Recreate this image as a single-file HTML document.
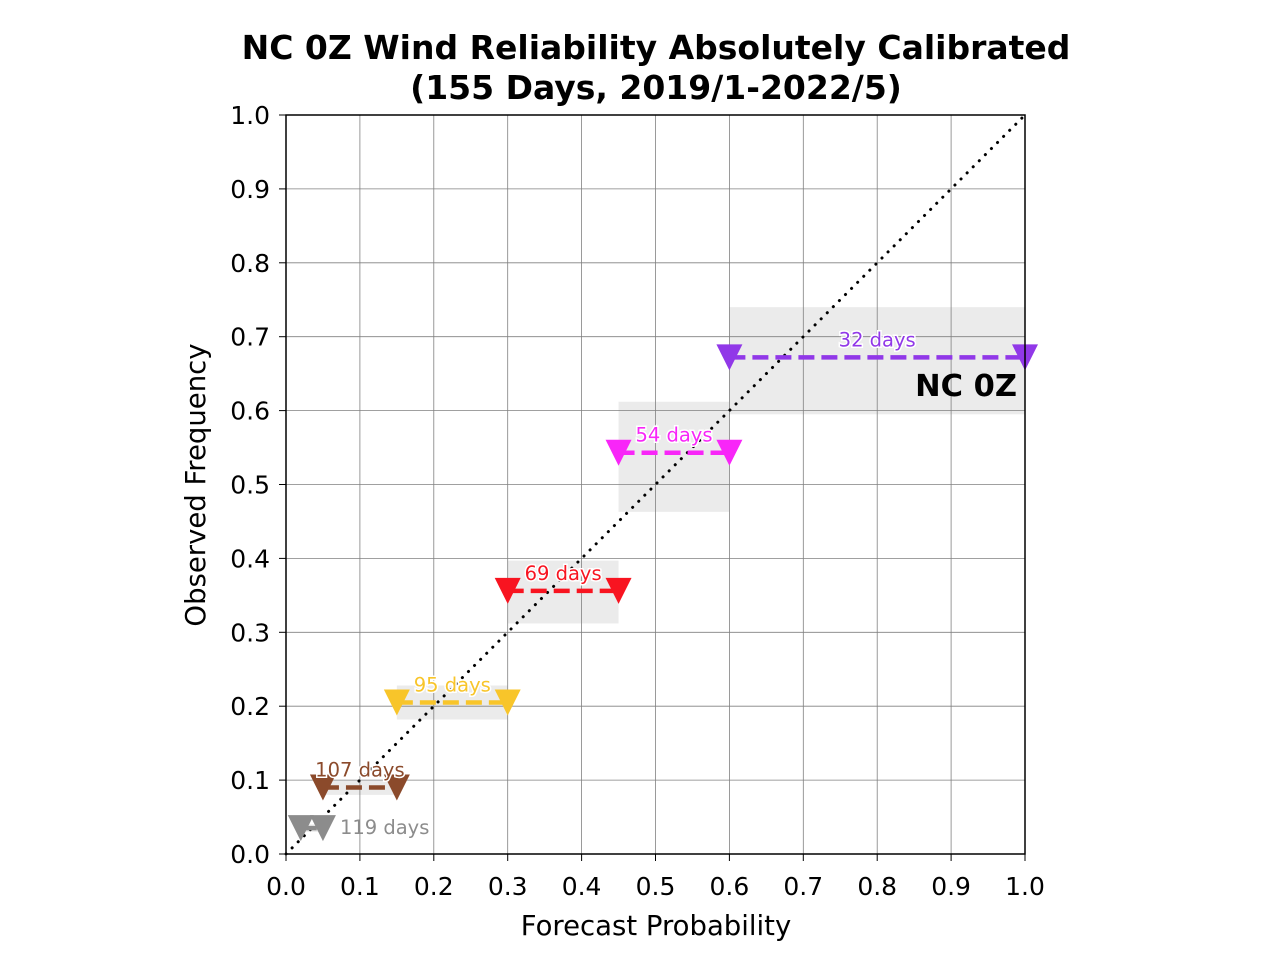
<!DOCTYPE html>
<html><head><meta charset="utf-8"><style>
body{margin:0;background:#fff;}
svg text{font-family:"DejaVu Sans","Liberation Sans",sans-serif;}
</style></head><body>
<svg id="chart" width="1280" height="960" xmlns="http://www.w3.org/2000/svg">
<text x="656" y="59" text-anchor="middle" font-size="33" font-weight="bold">NC 0Z Wind Reliability Absolutely Calibrated</text>
<text x="656" y="99" text-anchor="middle" font-size="33" font-weight="bold">(155 Days, 2019/1-2022/5)</text>
<g id="boxes"></g><g id="grid"></g><g id="diag"></g><g id="series"></g>
<rect x="286" y="115" width="739" height="739" fill="none" stroke="#000" stroke-width="1.5"/>
<g id="ticks"></g>
<text x="656" y="935" text-anchor="middle" font-size="27.5">Forecast Probability</text>
<text transform="translate(205,485) rotate(-90)" text-anchor="middle" font-size="27.5">Observed Frequency</text>
<text x="1017" y="396" text-anchor="end" font-size="30.5" font-weight="bold">NC 0Z</text>
</svg>
<script>
const binLo=[0.02,0.05,0.15,0.30,0.45,0.60];
const binHi=[0.05,0.15,0.30,0.45,0.60,1.00];
const obsFreq=[0.035,0.090,0.205,0.356,0.543,0.672];
const boxLo=[0.030,0.080,0.182,0.312,0.463,0.595];
const boxHi=[0.040,0.099,0.228,0.397,0.612,0.740];
const counts=[119,107,95,69,54,32];
const colors=['#8c8c8c','#8b4a2b','#f8c52a','#f81420','#f826f8','#9138e8'];
const ticks=[0,0.1,0.2,0.3,0.4,0.5,0.6,0.7,0.8,0.9,1.0];
const X=v=>286+v*739, Y=v=>854-v*739;
const NS='http://www.w3.org/2000/svg';
function mk(tag,parent,attrs){const e=document.createElementNS(NS,tag);for(const k in attrs)e.setAttribute(k,attrs[k]);document.getElementById(parent).appendChild(e);return e;}
ticks.forEach(t=>{
  let g=mk('line','grid',{x1:X(t),x2:X(t),y1:Y(0),y2:Y(1),stroke:'#808080','stroke-width':0.8});
  
  
  g=mk('line','grid',{x1:X(0),x2:X(1),y1:Y(t),y2:Y(t),stroke:'#808080','stroke-width':0.8});
  
  
  mk('line','ticks',{x1:X(t),x2:X(t),y1:854,y2:861,stroke:'#000','stroke-width':1});
  mk('line','ticks',{x1:279,x2:286,y1:Y(t),y2:Y(t),stroke:'#000','stroke-width':1});
  let tx=mk('text','ticks',{x:X(t),y:895,'text-anchor':'middle','font-size':25});
  tx.textContent=t.toFixed(1);
  
  
  tx=mk('text','ticks',{x:270,y:Y(t)+9,'text-anchor':'end','font-size':25});
  tx.textContent=t.toFixed(1);
  
  
});
let d=mk('line','diag',{x1:X(0),y1:Y(0),x2:X(1),y2:Y(1),stroke:'#000','stroke-width':3,'stroke-dasharray':'0.1 8.5','stroke-linecap':'round'});


binLo.forEach((lo,i)=>{
  const hi=binHi[i],c=colors[i],y=Y(obsFreq[i]);
  let b=mk('rect','boxes',{x:X(lo),y:Y(boxHi[i]),width:X(hi)-X(lo),height:Y(boxLo[i])-Y(boxHi[i]),fill:'#ebebeb'});
  
  
  let l=mk('line','series',{x1:X(lo),x2:X(hi),y1:y,y2:y,stroke:c,'stroke-width':4.5,'stroke-dasharray':'16 7'});
  
  
  [lo,hi].forEach(p=>{
    const x=X(p);
    let m=mk('polygon','series',{points:`${x-13},${y-13} ${x+13},${y-13} ${x},${y+13}`,fill:c});
    
    
  });
  let t;
  if(i===0){t=mk('text','series',{x:X(hi)+17,y:y+6,'font-size':19.5,fill:c});}
  else{t=mk('text','series',{x:(X(lo)+X(hi))/2,y:y-11,'text-anchor':'middle','font-size':19.5,fill:c,stroke:'#fff','stroke-width':3,'paint-order':'stroke'});}
  t.textContent=counts[i]+' days';
  
  
});
</script>
</body></html>
